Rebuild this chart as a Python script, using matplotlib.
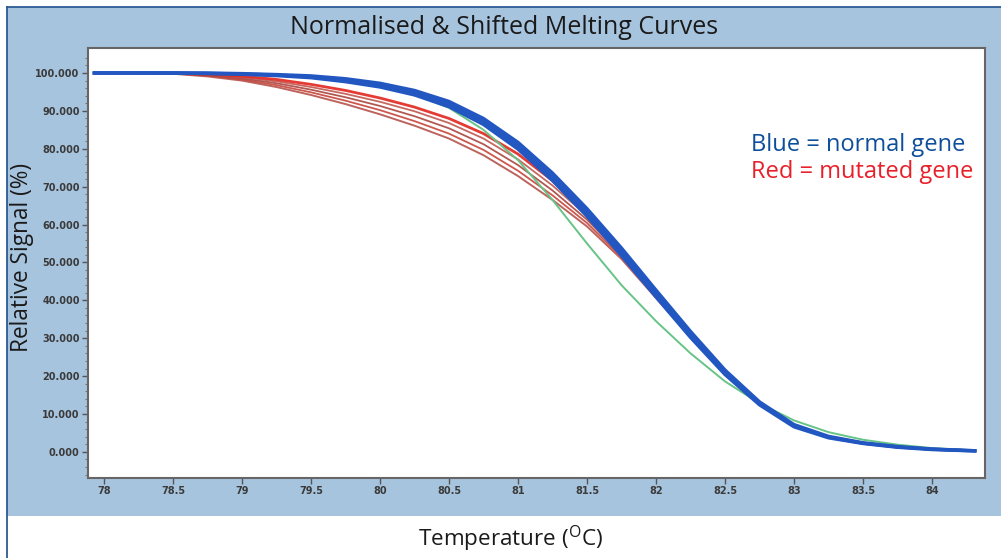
import matplotlib
matplotlib.use('Agg')
import matplotlib.pyplot as plt
from matplotlib.patches import Rectangle
from matplotlib.lines import Line2D

plt.rcParams['font.family'] = ['Open Sans', 'DejaVu Sans']
plt.rcParams['mathtext.fontset'] = 'custom'
plt.rcParams['mathtext.rm'] = 'Open Sans'

# temperature points (deg C)
temps = [77.93, 78.0, 78.25, 78.5, 78.75, 79.0, 79.25, 79.5, 79.75, 80.0, 80.25, 80.5, 80.75,
         81.0, 81.25, 81.5, 81.75, 82.0, 82.25, 82.5, 82.75, 83.0, 83.25, 83.5, 83.75, 84.0, 84.25, 84.31]

# normal gene (blue band)
blue_a = [100, 100, 100, 100, 100, 99.85, 99.6, 99.25, 98.5, 97.3, 95.4, 92.5, 88.0,
          81.7, 73.6, 64.2, 53.8, 42.7, 31.8, 21.6, 13.2, 7.2, 4.1, 2.4, 1.4, 0.75, 0.4, 0.3]
blue_b = [100, 100, 100, 100, 99.9, 99.75, 99.45, 99.0, 98.1, 96.8, 94.8, 91.8, 87.2,
          80.8, 72.6, 63.2, 52.8, 41.8, 31.0, 21.0, 12.8, 6.9, 3.9, 2.3, 1.3, 0.7, 0.35, 0.3]
blue_c = [100, 100, 100, 100, 99.85, 99.65, 99.3, 98.75, 97.7, 96.3, 94.2, 91.1, 86.4,
          79.9, 71.6, 62.2, 51.8, 40.9, 30.2, 20.4, 12.4, 6.6, 3.7, 2.2, 1.2, 0.6, 0.3, 0.25]

# green curve
green = [100, 100, 100, 100, 99.9, 99.8, 99.5, 99.0, 98.0, 96.5, 94.3, 90.8, 85.0,
         77.0, 66.5, 55.0, 44.0, 34.5, 26.0, 18.6, 12.8, 8.3, 5.2, 3.2, 1.9, 1.0, 0.5, 0.4]

# mutated gene (red curves)
red_1 = [100, 100, 100, 100, 99.7, 99.2, 98.3, 97.0, 95.4, 93.4, 91.0, 88.0, 84.0,
         78.6, 71.6, 63.2, 53.2, 42.2, 31.4, 21.3, 13.0, 7.0, 4.0, 2.3, 1.3, 0.7, 0.35, 0.3]
red_2 = [100, 100, 100, 99.95, 99.6, 98.9, 97.8, 96.3, 94.5, 92.4, 89.9, 86.8, 82.7,
         77.2, 70.3, 62.3, 52.6, 41.8, 31.1, 21.1, 12.9, 6.9, 3.9, 2.3, 1.3, 0.7, 0.35, 0.3]
red_3 = [100, 100, 100, 99.9, 99.4, 98.6, 97.3, 95.6, 93.6, 91.3, 88.6, 85.4, 81.2,
         75.7, 69.0, 61.3, 52.0, 41.4, 30.8, 20.9, 12.8, 6.9, 3.9, 2.3, 1.3, 0.7, 0.35, 0.3]
red_4 = [100, 100, 100, 99.85, 99.3, 98.3, 96.8, 94.9, 92.7, 90.2, 87.3, 84.0, 79.7,
         74.2, 67.7, 60.4, 51.4, 41.0, 30.5, 20.7, 12.7, 6.8, 3.9, 2.3, 1.3, 0.7, 0.35, 0.3]
red_5 = [100, 100, 100, 99.8, 99.1, 98.0, 96.3, 94.2, 91.8, 89.1, 86.1, 82.7, 78.3,
         72.8, 66.5, 59.5, 50.9, 40.6, 30.3, 20.6, 12.6, 6.8, 3.8, 2.2, 1.2, 0.65, 0.33, 0.28]

xticks = [78, 78.5, 79, 79.5, 80, 80.5, 81, 81.5, 82, 82.5, 83, 83.5, 84]
xtick_labels = ['78', '78.5', '79', '79.5', '80', '80.5', '81', '81.5', '82', '82.5', '83', '83.5', '84']
yticks = [0, 10, 20, 30, 40, 50, 60, 70, 80, 90, 100]
ytick_labels = ['%.3f' % v for v in yticks]

W, H = 1001, 558
fig = plt.figure(figsize=(W / 100, H / 100), dpi=100)
fig.patch.set_facecolor('white')

# blue panel behind the plot
fig.patches.append(Rectangle((7 / W, 1 - 516 / H), (W - 7) / W, (516 - 7) / H,
                             transform=fig.transFigure, facecolor='#a7c4de',
                             edgecolor='none', zorder=-2))
fig.lines.append(Line2D([6.5 / W, 6.5 / W], [0, 1 - 6.5 / H], transform=fig.transFigure,
                        color='#2b5a94', lw=1.3))
fig.lines.append(Line2D([6.5 / W, 1], [1 - 6.5 / H, 1 - 6.5 / H], transform=fig.transFigure,
                        color='#2b5a94', lw=1.3))

ax = fig.add_axes([88 / W, 1 - 478 / H, (985 - 88) / W, (478 - 48) / H])
ax.set_facecolor('white')

for r, c, lw in [(red_5, '#b5524b', 1.4), (red_4, '#c8443a', 1.3), (red_3, '#a9463f', 1.3),
                 (red_2, '#c0574f', 1.3), (red_1, '#e3261f', 2.0)]:
    ax.plot(temps, r, color=c, lw=lw, alpha=0.9)
ax.plot(temps, green, color='#66c487', lw=1.4)
for b in [blue_c, blue_b, blue_a]:
    ax.plot(temps, b, color='#2257c2', lw=2.4)

ax.set_xlim(77.884, 84.384)
ax.set_ylim(-6.9, 106.6)
ax.set_xticks(xticks)
ax.set_xticklabels(xtick_labels)
ax.set_yticks(yticks)
ax.set_yticklabels(ytick_labels)
ax.set_yticks(list(range(-6, 106, 2)), minor=True)
ax.tick_params(axis='both', which='major', length=4, width=1, color='#555555',
               labelsize=7, labelcolor='#3a3a3a', pad=2)
ax.tick_params(axis='y', which='minor', length=2, width=0.8, color='#777777')
for lab in ax.get_xticklabels() + ax.get_yticklabels():
    lab.set_family(['Liberation Sans Narrow', 'DejaVu Sans'])
    lab.set_fontweight('bold')
for s in ax.spines.values():
    s.set_color('#666666')
    s.set_linewidth(1.5)

fig.text(504 / W, 1 - 28 / H, 'Normalised & Shifted Melting Curves', ha='center', va='center',
         fontsize=18, color='#1a1a1a')
fig.text(22 / W, 1 - 258 / H, 'Relative Signal (%)', rotation=90, ha='center', va='center',
         fontsize=16.3, color='#1a1a1a')
fig.text(511 / W, 1 - 539 / H, r'Temperature ($\mathrm{^{O}}$C)', ha='center', va='center',
         fontsize=16.2, color='#1a1a1a')

fig.text(751 / W, 1 - 145 / H, 'Blue = normal gene', ha='left', va='center',
         fontsize=17, color='#0e4f9b')
fig.text(751 / W, 1 - 172 / H, 'Red = mutated gene', ha='left', va='center',
         fontsize=17, color='#e8202a')

plt.savefig('out.png', dpi=100)
